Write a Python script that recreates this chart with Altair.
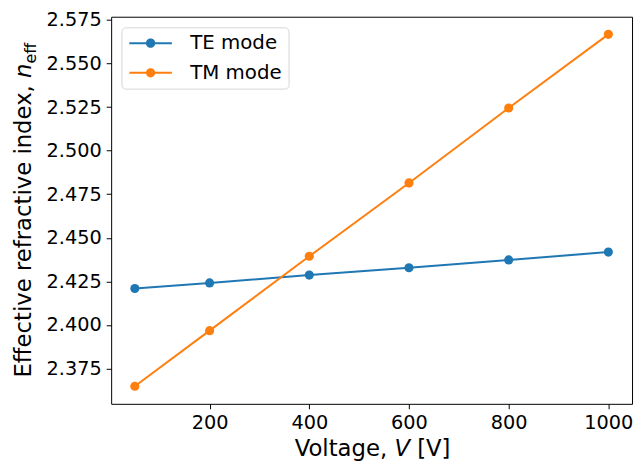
import altair as alt
import pandas as pd

# ---- data ----
voltage = [50, 200, 400, 600, 800, 1000]
te_mode = [2.4209, 2.4241, 2.4286, 2.4328, 2.4373, 2.4418]
tm_mode = [2.3648, 2.3967, 2.4394, 2.4815, 2.5245, 2.5668]
series_names = ["TE mode", "TM mode"]
series_colors = ["#1f77b4", "#ff7f0e"]
x_ticks = [200, 400, 600, 800, 1000]
y_ticks = [2.375, 2.400, 2.425, 2.450, 2.475, 2.500, 2.525, 2.550, 2.575]

rows = []
for name, vals in zip(series_names, [te_mode, tm_mode]):
    for v, n in zip(voltage, vals):
        rows.append({"V": v, "n": n, "mode": name})
df = pd.DataFrame(rows)

FONT = "DejaVu Sans"
W, H = 526.7, 391.4

xs = alt.Scale(domain=[2.5, 1047.5], nice=False, zero=False)
ys = alt.Scale(domain=[2.3547, 2.5769], nice=False, zero=False)
cs = alt.Scale(domain=series_names, range=series_colors)

common_axis = dict(title=None, grid=False, domain=False, tickColor="black",
                   tickSize=5, tickWidth=1, labelFont=FONT, labelFontSize=19.5,
                   labelColor="black", labelPadding=5)
xaxis = alt.Axis(values=x_ticks, format="d", **common_axis)
yaxis = alt.Axis(values=y_ticks, format=".3f", **common_axis)

X = alt.X("V:Q", scale=xs, axis=xaxis)
Y = alt.Y("n:Q", scale=ys, axis=yaxis)

LEG_PATH = ("M-2.15,-0.1H2.15V0.1H-2.15Z"
            "M0.47,0A0.47,0.47 0 1,1 -0.47,0A0.47,0.47 0 1,1 0.47,0Z")

legend = alt.Legend(
    title=None, orient="none", legendX=10.4, legendY=10.7,
    symbolType=LEG_PATH, symbolSize=400, symbolStrokeWidth=0,
    symbolFillColor="black", symbolOffset=13.5,
    labelFont=FONT, labelFontSize=20, labelColor="black", labelOffset=30,
    padding=6, rowPadding=10, strokeColor="#d6d6d6", fillColor="white",
    cornerRadius=4)

base = alt.Chart(df).encode(
    x=X, y=Y, color=alt.Color("mode:N", scale=cs, legend=legend)
)
lines = base.mark_line(strokeWidth=2)
points = base.mark_point(filled=True, size=85, opacity=1)

one = pd.DataFrame({"k": [0]})


def txt(text, x, y, align, size=23, style="normal", angle=None):
    kw = dict(text=text, align=align, baseline="alphabetic", font=FONT,
              fontSize=size, fontStyle=style, color="black")
    if angle is not None:
        kw["angle"] = angle
    return alt.Chart(one).mark_text(**kw).encode(x=alt.value(x), y=alt.value(y))


px = 286.4
xt = [
    txt("Voltage,", px - 7.3, 444.0, "right"),
    txt("V", px, 444.0, "left", style="italic"),
    txt("[V]", px + 15.7 + 7.3, 444.0, "left"),
]
py = 61.9
yx = -80.6
yt = [
    txt("Effective refractive index,", yx, py + 7.3, "right", angle=270),
    txt("n", yx, py, "left", style="italic", angle=270),
    txt("eff", yx + 5, py - 14.6, "left", size=16, angle=270),
]

chart = alt.layer(lines, points, *xt, *yt).properties(
    width=W, height=H,
    background="white",
    padding={"left": 104.3, "top": 6.3, "right": 3, "bottom": 58},
    autosize=alt.AutoSizeParams(type="none"),
).configure_view(stroke="black", strokeWidth=1)

chart.save("out.html", embed_options={"renderer": "svg", "actions": False})
